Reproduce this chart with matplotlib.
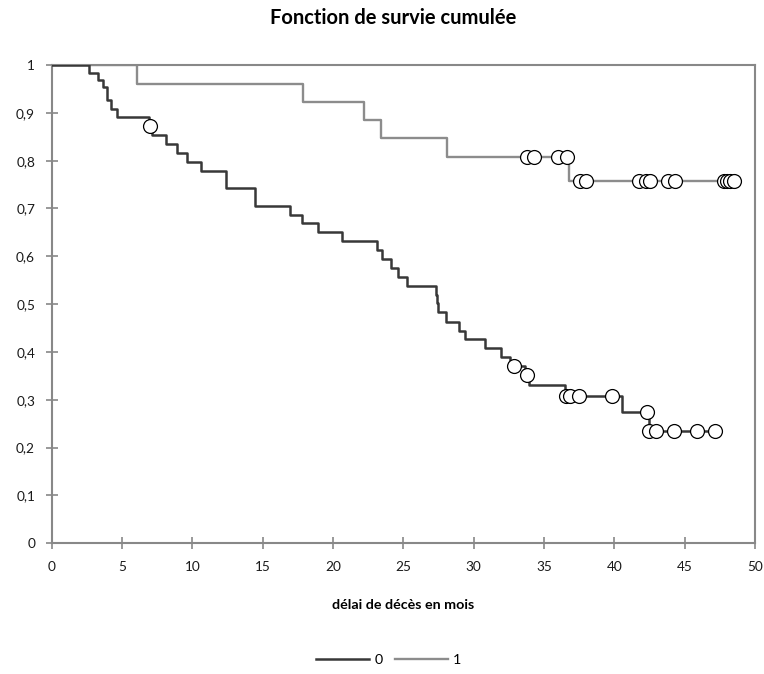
import matplotlib.pyplot as plt
import numpy as np

plt.rcParams['font.family'] = ['Lato', 'DejaVu Sans']

# groupe 0 : temps des evenements et survie apres chaque saut
t0 = [0, 2.67, 3.31, 3.62, 3.91, 4.19, 4.66, 6.92, 7.11, 8.12, 8.88, 9.64, 10.59,
      12.37, 14.45, 16.94, 17.77, 18.91, 20.61, 23.10, 23.45, 24.09, 24.63, 25.23,
      27.31, 27.41, 27.48, 28.02, 28.97, 29.37, 30.80, 31.91, 32.58, 33.62, 33.94,
      36.48, 40.58, 42.47, 47.14]
s0 = [1, 0.983, 0.969, 0.955, 0.927, 0.909, 0.891, 0.873, 0.854, 0.834, 0.815, 0.797, 0.778,
      0.742, 0.705, 0.686, 0.669, 0.650, 0.632, 0.613, 0.594, 0.576, 0.557, 0.538,
      0.519, 0.502, 0.483, 0.463, 0.444, 0.427, 0.408, 0.390, 0.371, 0.352, 0.331,
      0.308, 0.274, 0.235, 0.235]
# groupe 0 : observations censurees
c0_t = [6.99, 32.86, 33.80, 36.53, 36.84, 37.50, 39.80, 42.29, 42.47, 42.94, 44.25, 45.91, 47.14]
c0_s = [0.873, 0.371, 0.352, 0.308, 0.308, 0.308, 0.308, 0.274, 0.235, 0.235, 0.235, 0.235, 0.235]

# groupe 1
t1 = [0, 6.08, 17.84, 22.22, 23.38, 28.07, 36.79, 48.49]
s1 = [1, 0.961, 0.922, 0.884, 0.847, 0.807, 0.758, 0.758]
c1_t = [33.80, 34.28, 36.00, 36.64, 37.55, 37.97, 41.76, 42.28, 42.57, 43.82, 44.30,
        47.80, 48.00, 48.20, 48.49]
c1_s = [0.807, 0.807, 0.807, 0.807, 0.758, 0.758, 0.758, 0.758, 0.758, 0.758, 0.758,
        0.758, 0.758, 0.758, 0.758]

dark = '#383838'
grey = '#8c8c8c'
axcol = '#888888'

fig = plt.figure(figsize=(7.64, 6.74), dpi=100)
ax = fig.add_axes([51.7/764, 1-543.3/674, (755-51.7)/764, (543.3-65)/674])

l0, = ax.step(t0, s0, where='post', color=dark, lw=1.8, zorder=3)
l1, = ax.step(t1, s1, where='post', color=grey, lw=1.7, zorder=2)
ax.plot(c0_t, c0_s, 'o', ms=10, mfc='white', mec='black', mew=0.9, zorder=4)
ax.plot(c1_t, c1_s, 'o', ms=10, mfc='white', mec='black', mew=0.9, zorder=4)

ax.set_xlim(0, 50)
ax.set_ylim(0, 1)
ax.set_xticks(np.arange(0, 51, 5))
ax.set_yticks(np.arange(0, 1.01, 0.1))
ax.set_yticklabels([('%.1f' % v).replace('.', ',') if 0 < v < 1 else '%d' % round(v)
                    for v in np.arange(0, 1.01, 0.1)])
for sp in ax.spines.values():
    sp.set_color(axcol)
    sp.set_linewidth(1.5)
ax.tick_params(direction='inout', length=8, width=1.2, color=axcol, labelsize=9.8,
               labelcolor='#1a1a1a')
ax.tick_params(axis='y', pad=8)
ax.tick_params(axis='x', pad=9)

fig.text(393/764, 1-18/674, 'Fonction de survie cumulée', ha='center', va='center',
         fontsize=14.5, fontweight='bold')
fig.text(403/764, 1-605/674, 'délai de décès en mois', ha='center', va='center',
         fontsize=10.3, fontweight='bold')

fig.legend([l0, l1], ['0', '1'], loc='center', bbox_to_anchor=(389/764, 1-660/674),
           ncol=2, frameon=False, fontsize=10.3, handlelength=3.7, columnspacing=0.8,
           handletextpad=0.4)

fig.savefig('out.png', dpi=100)
